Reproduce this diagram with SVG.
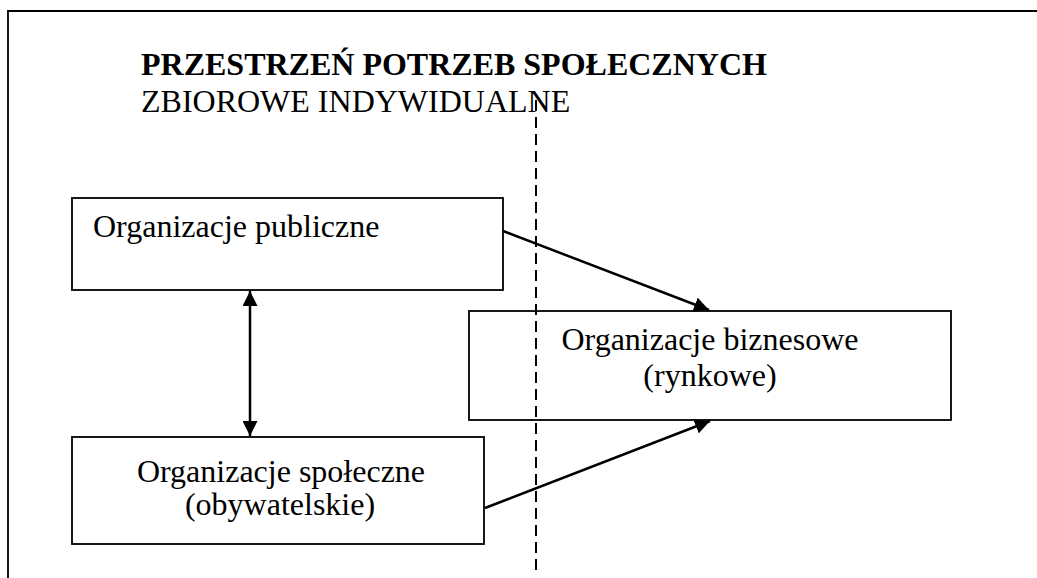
<svg xmlns="http://www.w3.org/2000/svg" width="1037" height="578" viewBox="0 0 1037 578">
  <style>
    .box { fill: #fff; stroke: #000; stroke-width: 1.8; }
    .t { font-family: "Liberation Serif", "Times New Roman", serif; font-size: 32px; fill: #000; }
    .b { font-weight: bold; }
    .conn { stroke: #000; stroke-width: 2.5; fill: none; }
    .dash { stroke: #000; stroke-width: 2; stroke-dasharray: 11 6; fill: none; }
  </style>
  <defs>
    <marker id="ah" viewBox="0 0 10 10" refX="10" refY="5" markerWidth="6" markerHeight="6" markerUnits="strokeWidth" orient="auto-start-reverse">
      <path d="M0,0 L10,5 L0,10 Z" fill="#000"/>
    </marker>
  </defs>
  <rect x="0" y="0" width="1037" height="578" fill="#fff"/>
  <path d="M8,590 L8,11 L1045,11" fill="none" stroke="#000" stroke-width="1.8"/>
  <g id="title">
    <text class="t b" x="141" y="75" font-size="33.6">PRZESTRZEŃ POTRZEB SPOŁECZNYCH</text>
    <text class="t" x="141" y="112" font-size="31.2">ZBIOROWE INDYWIDUALNE</text>
  </g>
  <g id="node-publiczne">
    <rect class="box" x="72" y="198" width="431" height="92"/>
    <text class="t" x="93" y="237">Organizacje publiczne</text>
  </g>
  <g id="node-biznesowe">
    <rect class="box" x="469" y="311" width="482" height="109"/>
    <text class="t" x="710" y="350" text-anchor="middle">Organizacje biznesowe</text>
    <text class="t" x="710" y="386" text-anchor="middle">(rynkowe)</text>
  </g>
  <g id="node-spoleczne">
    <rect class="box" x="72" y="437" width="412" height="107"/>
    <text class="t" x="281" y="482" text-anchor="middle">Organizacje społeczne</text>
    <text class="t" x="280" y="515" text-anchor="middle">(obywatelskie)</text>
  </g>
  <g id="connectors">
    <line class="dash" x1="536" y1="100" x2="536" y2="572"/>
    <line class="conn" x1="250" y1="291" x2="250" y2="436" marker-start="url(#ah)" marker-end="url(#ah)"/>
    <line class="conn" x1="503" y1="231" x2="709" y2="310" marker-end="url(#ah)"/>
    <line class="conn" x1="485" y1="508" x2="710" y2="421" marker-end="url(#ah)"/>
  </g>
</svg>
